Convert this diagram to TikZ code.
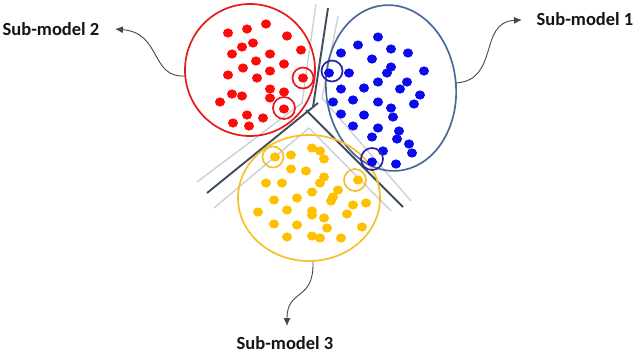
\documentclass[tikz,border=0pt]{standalone}
\usepackage{fontspec}
\setmainfont{Carlito}
\usetikzlibrary{arrows.meta}
\definecolor{redc}{HTML}{FF0A0A}
\definecolor{redline}{HTML}{E8191B}
\definecolor{bluec}{HTML}{0A0AEE}
\definecolor{blueline}{HTML}{4A6A9A}
\definecolor{bluering}{HTML}{2626A6}
\definecolor{yelc}{HTML}{FFC000}
\definecolor{yelline}{HTML}{F5C02A}
\definecolor{darkln}{HTML}{3E4C5E}
\definecolor{grayln}{HTML}{CBD0D6}
\begin{document}
\begin{tikzpicture}[x=1pt,y=-1pt,
  lab/.style={font=\fontsize{18.5}{22}\selectfont\bfseries, text=black!92, inner sep=0pt},
  conn/.style={draw=black!72, line width=0.9pt, -{Latex[length=8pt,width=7pt]}},
  grayl/.style={draw=grayln, line width=1.4pt},
  darkl/.style={draw=darkln, line width=1.9pt},
  ring/.style={line width=1.7pt},
]
\useasboundingbox (0,0) rectangle (636,354);
% separating lines
\draw[grayl] (316,4) -- (302,103) -- (197,182);
\draw[grayl] (338,16) -- (322,98) -- (411,201);
\draw[grayl] (214,208) -- (309,128) -- (391,211);
\draw[darkl] (328,8) -- (313,107);
\draw[darkl] (207,193) -- (318,103);
\draw[darkl] (306,110) -- (403,207);
% clusters
\draw[redline, line width=1.7pt] (250,70) ellipse [x radius=65pt, y radius=66pt];
\draw[blueline, line width=1.7pt, rotate around={5:(391,88)}] (391,88) ellipse [x radius=65pt, y radius=83pt];
\draw[yelline, line width=1.7pt] (309,198) ellipse [x radius=71pt, y radius=63pt];
\foreach \p in {(228,33),(247,29),(266,24),(287,36),(301,50),(242,47),(253,43),(232,54),(270,54),(256,61),(284,64),(243,68),(270,71),(228,75),(257,78),(303,78),(232,94),(242,96),(270,89),(284,92),(270,98),(220,102),(284,109),(247,115),(263,118),(233,123),(249,126)}
  \fill[redc] \p ellipse [x radius=5pt, y radius=4.6pt];
\foreach \p in {(378,37),(358,45),(391,49),(341,53),(408,53),(372,59),(391,67),(387,73),(424,71),(349,73),(329,73),(407,82),(400,89),(378,82),(364,88),(341,89),(420,95),(333,102),(353,100),(378,102),(414,104),(391,108),(393,117),(341,114),(364,115),(353,126),(378,128),(399,131),(372,137),(397,139),(409,144),(412,153),(383,151),(372,162),(396,164)}
  \fill[bluec] \p ellipse [x radius=5pt, y radius=4.6pt];
\foreach \p in {(312,148),(320,151),(324,159),(291,155),(275,157),(291,169),(306,171),(324,177),(320,183),(266,183),(282,183),(358,180),(312,192),(338,190),(333,197),(331,201),(274,200),(297,198),(366,203),(353,205),(258,212),(287,210),(312,211),(312,215),(347,214),(324,218),(274,224),(297,225),(327,228),(362,227),(287,237),(312,236),(320,238),(341,238)}
  \fill[yelc] \p ellipse [x radius=5pt, y radius=4.6pt];
% highlighted points
\draw[redline, ring] (303,78) circle [radius=10.5pt];
\draw[redline, ring] (284,108) circle [radius=11pt];
\draw[bluering, ring] (332,71) circle [radius=10.5pt];
\draw[bluering, ring] (372,159) circle [radius=11pt];
\draw[yelline, ring] (273,157) circle [radius=10.5pt];
\draw[yelline, ring] (355,180) circle [radius=11pt];
% labels
\node[lab] (lab2) at (51,29) {Sub-model 2};
\node[lab] (lab1) at (585,19) {Sub-model 1};
\node[lab] (lab3) at (285,343) {Sub-model 3};
\coordinate (s2) at (185,76);
\coordinate (e2) at (115,29);
\coordinate (s1) at (456,83);
\coordinate (e1) at (522,20);
\coordinate (s3) at (313,262);
\coordinate (e3) at (287,326);
\draw[conn] (s2) .. controls (150,78) and (162,33) .. (e2);
\draw[conn] (s1) .. controls (500,80) and (478,22) .. (e1);
\draw[conn] (s3) .. controls (314,302) and (287,288) .. (e3);
\end{tikzpicture}
\end{document}
